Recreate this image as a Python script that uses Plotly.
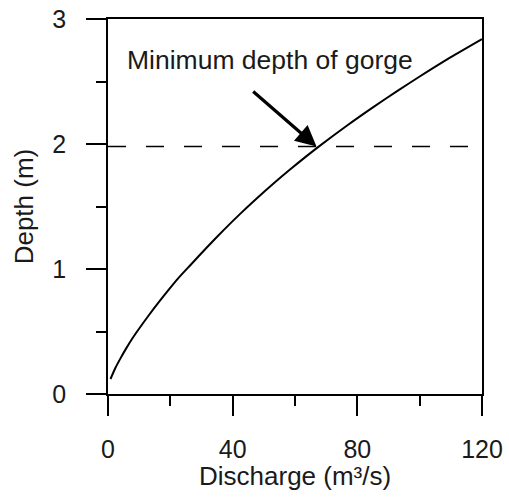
import plotly.graph_objects as go

# Rating curve: discharge (m^3/s) vs flow depth (m)
discharge = [0.8, 2.4, 4.0, 5.6, 7.7, 9.9, 13.1, 16.3, 19.5, 22.5, 26.4, 31.7, 37.1,
             42.4, 47.7, 53.1, 58.4, 63.7, 67.5, 76.5, 85, 93, 100, 110, 120]
depth = [0.12, 0.21, 0.285, 0.355, 0.44, 0.52, 0.63, 0.735, 0.835, 0.925, 1.03, 1.172, 1.311,
         1.441, 1.564, 1.684, 1.796, 1.903, 1.977, 2.144, 2.293, 2.427, 2.540, 2.695, 2.840]

# Minimum depth of the gorge (horizontal reference line)
gorge_depth = 1.98
gorge_x = [0, 120]

# Arrow pointing at the intersection of curve and gorge depth
arrow_tip = (66.9, gorge_depth)
arrow_tail = (46.1, 2.43)
label_pos = (52, 2.67)
label_text = "Minimum depth of gorge"

x_major = [0, 40, 80, 120]
x_minor = [20, 60, 100]
y_major = [0, 1, 2, 3]
y_minor = [0.5, 1.5, 2.5]

FONT = "Liberation Sans, Arial, Helvetica, sans-serif"
TEXT_COLOR = "#1a1a1a"

fig = go.Figure()
fig.add_trace(go.Scatter(
    x=gorge_x, y=[gorge_depth, gorge_depth], mode="lines",
    line=dict(color="black", width=1.6, dash="18px,20px"),
    hoverinfo="skip", showlegend=False,
))
fig.add_trace(go.Scatter(
    x=discharge, y=depth, mode="lines",
    line=dict(color="black", width=2, shape="spline", smoothing=0.6),
    showlegend=False,
))

fig.add_annotation(
    x=arrow_tip[0], y=arrow_tip[1], ax=arrow_tail[0], ay=arrow_tail[1],
    xref="x", yref="y", axref="x", ayref="y",
    showarrow=True, arrowhead=2, arrowsize=1.3, arrowwidth=3.2,
    arrowcolor="black", text="",
)
fig.add_annotation(
    x=label_pos[0], y=label_pos[1], xref="x", yref="y",
    text=label_text, showarrow=False,
    font=dict(family=FONT, size=26.5, color=TEXT_COLOR),
    xanchor="center", yanchor="middle",
)

# Axis titles placed as annotations relative to the plot area
fig.add_annotation(
    x=0.5, y=-0.218, xref="paper", yref="paper",
    text="Discharge (m³/s)", showarrow=False,
    font=dict(family=FONT, size=26, color=TEXT_COLOR),
    xanchor="center", yanchor="middle",
)
fig.add_annotation(
    x=-0.225, y=0.5, xref="paper", yref="paper",
    text="Depth (m)", showarrow=False, textangle=-90,
    font=dict(family=FONT, size=26, color=TEXT_COLOR),
    xanchor="center", yanchor="middle",
)

axis_common = dict(
    showgrid=False, zeroline=False, showline=True, mirror=True,
    linecolor="black", linewidth=1.8, automargin=False,
    ticks="outside", ticklen=20, tickwidth=1.8, tickcolor="black",
    tickfont=dict(family=FONT, size=25, color=TEXT_COLOR),
)

fig.update_xaxes(
    range=[0, 120], tickmode="array", tickvals=x_major,
    minor=dict(tickvals=x_minor, ticks="outside", ticklen=10, tickwidth=1.8, tickcolor="black"),
    ticklabelstandoff=12,
    **axis_common,
)
fig.update_yaxes(
    range=[0, 3], tickmode="array", tickvals=y_major,
    minor=dict(tickvals=y_minor, ticks="outside", ticklen=10, tickwidth=1.8, tickcolor="black"),
    ticklabelstandoff=15,
    **axis_common,
)

fig.update_layout(
    width=509, height=498,
    margin=dict(l=107.5, r=27, t=19, b=104, pad=0),
    paper_bgcolor="white", plot_bgcolor="white",
    showlegend=False,
)

fig.write_html("out.html")
